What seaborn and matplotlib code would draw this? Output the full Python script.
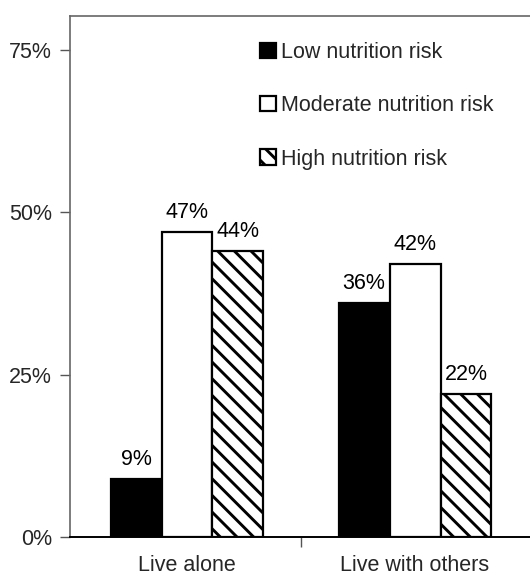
import matplotlib
matplotlib.use("Agg")
import matplotlib.pyplot as plt
from matplotlib.patches import Patch
import pandas as pd
import seaborn as sns

# Living situation groups and nutrition-risk shares (%)
groups = ["Live alone", "Live with others"]
risk_levels = ["Low nutrition risk", "Moderate nutrition risk", "High nutrition risk"]
low_risk = [9, 36]
moderate_risk = [47, 42]
high_risk = [44, 22]
y_ticks = [0, 25, 50, 75]
y_tick_labels = ["0%", "25%", "50%", "75%"]

df = pd.DataFrame({
    "group": groups * 3,
    "risk": [risk_levels[0]] * 2 + [risk_levels[1]] * 2 + [risk_levels[2]] * 2,
    "pct": low_risk + moderate_risk + high_risk,
})

sns.set_theme(style="white")
plt.rcParams["font.family"] = ["Liberation Sans", "DejaVu Sans"]
plt.rcParams["hatch.linewidth"] = 2.1
plt.rcParams["hatch.color"] = "black"

FS = 15.5

fig = plt.figure(figsize=(5.30, 5.78), dpi=100)
ax = fig.add_axes([70 / 530, 1 - 537 / 578, 1 - 70 / 530, (537 - 16) / 578])

palette = {risk_levels[0]: "black", risk_levels[1]: "white", risk_levels[2]: "white"}
sns.barplot(data=df, x="group", y="pct", hue="risk", hue_order=risk_levels,
            order=groups, palette=palette, edgecolor="black", linewidth=1.6,
            width=0.67, gap=0, saturation=1, legend=False, ax=ax)

# Diagonal hatching for the high-risk series
for bar in ax.containers[2]:
    bar.set_hatch("\\\\")

for cont in ax.containers:
    ax.bar_label(cont, labels=[f"{v:.0f}%" for v in cont.datavalues],
                 padding=6.5, fontsize=FS, color="black")

ax.set_xlim(-0.513, 1.504)
ax.set_ylim(0, 80.2)
ax.set_yticks(y_ticks)
ax.set_yticklabels(y_tick_labels, fontsize=FS)
ax.set_xticks([0.5])
ax.set_xticklabels([""])
for i, g in enumerate(groups):
    ax.text(i, -4.4, g, ha="center", va="center", fontsize=FS,
            transform=ax.transData)
ax.set_xlabel("")
ax.set_ylabel("")

ax.tick_params(axis="y", which="both", left=True, length=7, width=1, color="#555555",
               pad=6)
ax.tick_params(axis="x", which="both", bottom=True, length=7, width=1, color="#555555")

for side in ["top", "left"]:
    ax.spines[side].set_color("#666666")
    ax.spines[side].set_linewidth(1.2)
ax.spines["right"].set_visible(False)
ax.spines["bottom"].set_color("black")
ax.spines["bottom"].set_linewidth(1.4)

handles = [
    Patch(facecolor="black", edgecolor="black", linewidth=1.6),
    Patch(facecolor="white", edgecolor="black", linewidth=1.6),
    Patch(facecolor="white", edgecolor="black", linewidth=1.6, hatch="\\\\"),
]
ax.legend(handles, risk_levels, loc="upper left",
          bbox_to_anchor=((260 - 70) / 460, (537 - 42) / 521),
          frameon=False, fontsize=FS, handlelength=0.72, handleheight=0.72,
          handletextpad=0.25, labelspacing=1.5, borderaxespad=0, borderpad=0)

fig.savefig("out.png", dpi=100)
